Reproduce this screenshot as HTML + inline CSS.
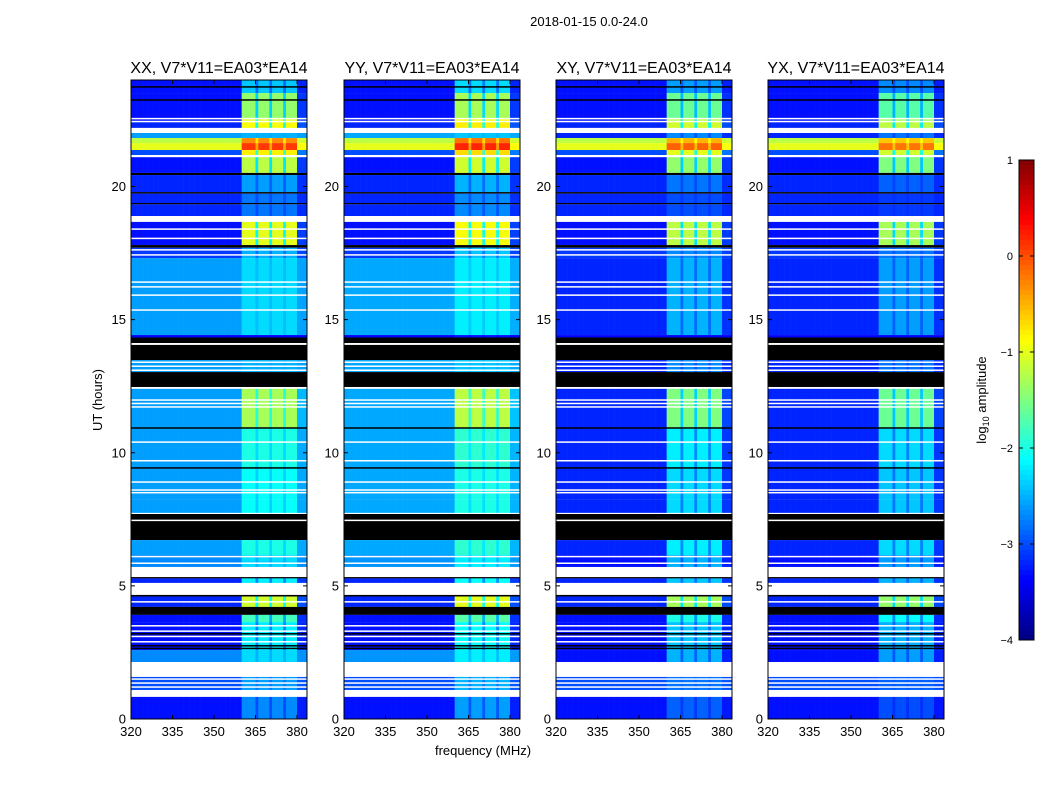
<!DOCTYPE html>
<html><head><meta charset="utf-8"><style>
body{margin:0;background:#fff;}
svg text{font-family:"Liberation Sans",sans-serif;fill:#000;}
</style></head><body>
<svg id="fig" width="1050" height="800" viewBox="0 0 1050 800" xmlns="http://www.w3.org/2000/svg">
<rect width="1050" height="800" fill="#fff"/>
<text x="589" y="26" font-size="13" text-anchor="middle">2018-01-15 0.0-24.0</text>
<text x="102" y="400" font-size="13" text-anchor="middle" transform="rotate(-90 102 400)">UT (hours)</text>
<text x="483" y="755" font-size="13" text-anchor="middle">frequency (MHz)</text>
<g id="panels"></g>
<g id="cbar"></g>
<text x="986" y="400" font-size="13" text-anchor="middle" transform="rotate(-90 986 400)">log<tspan font-size="9" dy="3">10</tspan><tspan dy="-3"> amplitude</tspan></text>
</svg>
<script>
const panelTitles = ["XX, V7*V11=EA03*EA14","YY, V7*V11=EA03*EA14","XY, V7*V11=EA03*EA14","YX, V7*V11=EA03*EA14"];
const panelLeft = [131, 344, 556, 768];
const panelBgShift = [0, 0.05, -0.6, -0.6];
const panelBandShift = [0, 0.1, -0.2, -0.3];
const yTicks = [0,5,10,15,20];
const xTicks = [320,335,350,365,380];
const cbTicks = [1,0,-1,-2,-3,-4];
// segments: [topHour, bottomHour, background log-amp ('w' blank, 'k' flagged), band log-amp]
const segments = [
[24.0,23.51,-3.3,-2.4],[23.51,22.57,-3.3,-1.4],[22.57,22.42,-3.3,-1.0],[22.42,22.2,-3.2,-0.9],
[22.2,22.01,'w',0],[22.01,21.82,-2.6,-2.5],[21.82,21.63,-1.2,-0.3],[21.63,21.37,-1.0,0.1],
[21.37,21.18,-3.0,-0.8],[21.18,21.1,'w',0],[21.1,20.51,-3.3,-1.2],[20.51,20.43,'k',0],
[20.43,19.79,-3.2,-2.6],[19.79,19.73,'k',0],[19.73,19.38,-3.2,-2.8],[19.38,19.33,'k',0],
[19.33,18.89,-3.2,-2.8],[18.89,18.67,'w',0],[18.67,17.8,-3.3,-1.0],[17.8,17.7,'k',0],
[17.7,17.31,-3.1,-2.5],[17.31,14.42,-2.6,-2.3],[14.42,14.33,-3.4,-3.4],[14.33,14.12,'k',0],
[14.12,14.05,'w',0],[14.05,13.48,'k',0],[13.48,13.03,-2.6,-2.5],[13.03,12.47,'k',0],
[12.47,12.4,'w',0],[12.4,10.93,-2.6,-1.3],[10.93,9.43,-2.6,-2.0],[9.43,8.23,-2.6,-2.1],
[8.23,7.74,-2.6,-2.1],[7.74,7.7,'w',0],[7.7,6.72,'k',0],[6.72,6.16,-2.6,-2.0],
[6.16,5.71,-2.7,-2.3],[5.71,5.33,'w',0],[5.33,5.28,'k',0],[5.28,5.11,-3.2,-2.2],
[5.11,4.66,'w',0],[4.66,4.6,'k',0],[4.6,4.21,-3.2,-1.1],[4.21,3.91,'k',0],
[3.91,3.64,-3.3,-1.8],[3.64,2.59,-3.3,-2.2],[2.59,2.14,-2.7,-2.3],[2.14,1.58,'w',0],
[1.58,1.09,-3.0,-2.6],[1.09,0.83,'w',0],[0.83,0,-3.3,-2.7]
];
// thin overlay lines: [hour, type]
const lines = [
[23.74,'k'],[23.25,'k'],[22.55,'w'],[22.44,'w'],[18.4,'w'],[18.05,'w'],[17.62,'w'],[17.43,'w'],
[16.41,'w'],[16.23,'w'],[15.92,'w'],[15.36,'w'],[13.4,'w'],[13.25,'w'],[13.1,'w'],
[11.98,'w'],[11.85,'w'],[11.72,'w'],[10.93,'k'],[10.4,'w'],[9.7,'w'],[9.43,'k'],
[8.9,'w'],[8.6,'w'],[8.5,'w'],[7.46,'w'],[6.1,'w'],[5.85,'w'],[4.4,'w'],
[3.5,'w'],[3.3,'w'],[3.2,'k'],[3.1,'w'],[2.9,'w'],[2.75,'k'],[2.65,'k'],[1.5,'w'],[1.35,'w'],[1.2,'w']
];
// band weight per 1 MHz channel starting at 320 MHz
const bandProfile = [0,0,0,0,0,0,0,0,0,0,0,0,0,0,0,0,0,0,0,0,0,0,0,0,0,0,0,0,0,0,0,0,
0,0,0,0,0,0,0,0,1,1,1,1,1,0.5,1,1,1,1,0.5,1,1,1,1,0.5,1,1,1,1,0.1,0.1,0.1,0.1];

const NS='http://www.w3.org/2000/svg';
const W=176, TOP=80, BOT=719;
function yOf(h){return BOT-(h/24)*(BOT-TOP);}
function xOf(f,left){return left+(f-320)*(41.5/15);}
function jet(v){let t=Math.max(0,Math.min(1,(v+4)/5));
 const c=x=>Math.round(255*Math.max(0,Math.min(1,1.5-Math.abs(x))));
 return `rgb(${c(4*t-3)},${c(4*t-2)},${c(4*t-1)})`;}
function mk(tag,attrs,parent){const e=document.createElementNS(NS,tag);for(const k in attrs)e.setAttribute(k,attrs[k]);parent.appendChild(e);return e;}
const root=document.getElementById('panels');
panelTitles.forEach((title,p)=>{
 const L=panelLeft[p];
 const g=mk('g',{},root);
 
 
 segments.forEach(s=>{
  const y0=yOf(s[0]), y1=yOf(s[1]);
  if(s[2]==='w'||s[2]==='k'){
   const r=mk('rect',{x:L,y:y0,width:W,height:y1-y0,fill:s[2]==='w'?'#fff':'#000'},g);
   
   
   return;}
  let bg=s[2]; if(bg>-3 && bg<-1.5) bg+=panelBgShift[p];
  const band=s[3]+panelBandShift[p];
  bandProfile.forEach((w,c)=>{
   const x0=xOf(320+c,L), x1=Math.min(xOf(321+c,L),L+W);
   if(x0>=L+W)return;
   const v=bg+(Math.max(band,bg)-bg)*w;
   const r=mk('rect',{x:x0,y:y0,width:x1-x0+0.3,height:y1-y0,fill:jet(v)},g);
   
   
  });
 });
 lines.forEach(l=>{
  const r=mk('rect',{x:L,y:yOf(l[0])-0.75,width:W,height:1.5,fill:l[1]==='w'?'#fff':'#000'},g);
  
  
 });
 const fr=mk('rect',{x:L,y:TOP,width:W,height:BOT-TOP,fill:'none',stroke:'#000','stroke-width':1},g);
 
 
 const t=mk('text',{x:L+W/2,y:73,'font-size':16,'text-anchor':'middle'},g);t.textContent=title;
 
 
 yTicks.forEach(h=>{const y=yOf(h);
  mk('line',{x1:L,x2:L+4,y1:y,y2:y,stroke:'#000'},g);mk('line',{x1:L+W-4,x2:L+W,y1:y,y2:y,stroke:'#000'},g);
  const tx=mk('text',{x:L-5,y:y+4.5,'font-size':13,'text-anchor':'end'},g);tx.textContent=h;
  
  });
 xTicks.forEach(f=>{const x=xOf(f,L);
  mk('line',{x1:x,x2:x,y1:BOT,y2:BOT-4,stroke:'#000'},g);mk('line',{x1:x,x2:x,y1:TOP,y2:TOP+4,stroke:'#000'},g);
  const tx=mk('text',{x:x,y:736,'font-size':13,'text-anchor':'middle'},g);tx.textContent=f;
  
  });
});
const cb=document.getElementById('cbar');
for(let i=0;i<96;i++){const v=1-5*(i+0.5)/96;
 const r=mk('rect',{x:1019,y:160+i*5,width:15,height:5.3,fill:jet(v)},cb);
 
 }
mk('rect',{x:1019,y:160,width:15,height:480,fill:'none',stroke:'#000'},cb);
cbTicks.forEach(v=>{const y=160+(1-v)*96;
 mk('line',{x1:1019,x2:1023,y1:y,y2:y,stroke:'#000'},cb);mk('line',{x1:1030,x2:1034,y1:y,y2:y,stroke:'#000'},cb);
 const tx=mk('text',{x:1013,y:y+4,'font-size':11,'text-anchor':'end'},cb);tx.textContent=(v<0?'\u2212'+(-v):v);
 
 });
</script>
</body></html>
